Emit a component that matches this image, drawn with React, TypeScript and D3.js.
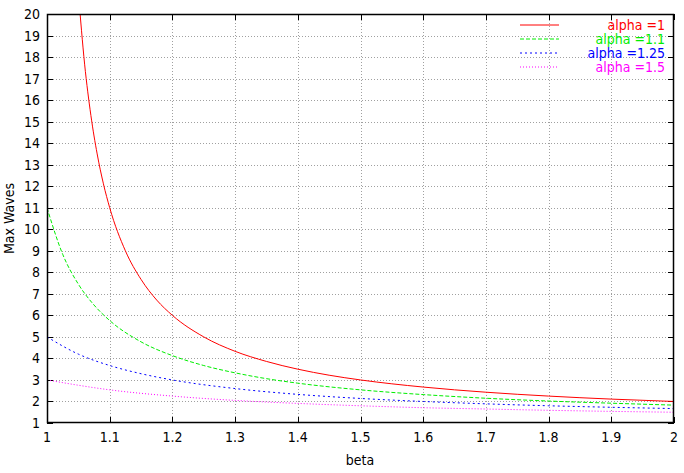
import React from "react";
import * as d3 from "d3";

const xTicks = [1, 1.1, 1.2, 1.3, 1.4, 1.5, 1.6, 1.7, 1.8, 1.9, 2];
const yTicks = [1, 2, 3, 4, 5, 6, 7, 8, 9, 10, 11, 12, 13, 14, 15, 16, 17, 18, 19, 20];

const beta1 = [1.05, 1.06, 1.07, 1.08, 1.09, 1.1, 1.125, 1.15, 1.175, 1.2, 1.25, 1.3, 1.35, 1.4, 1.45, 1.5, 1.6, 1.7, 1.8, 1.9, 2.0];
const waves1 = [21.0, 17.67, 15.29, 13.5, 12.11, 11.0, 9.0, 7.67, 6.71, 6.0, 5.0, 4.33, 3.86, 3.5, 3.22, 3.0, 2.67, 2.43, 2.25, 2.11, 2.0];

const beta11 = [1, 1.025, 1.05, 1.075, 1.1, 1.15, 1.2, 1.25, 1.3, 1.35, 1.4, 1.5, 1.6, 1.7, 1.8, 1.9, 2.0];
const waves11 = [11.0, 8.84, 7.45, 6.48, 5.76, 4.77, 4.13, 3.67, 3.33, 3.06, 2.85, 2.54, 2.32, 2.15, 2.02, 1.92, 1.83];

const beta125 = [1, 1.05, 1.1, 1.15, 1.2, 1.3, 1.4, 1.5, 1.6, 1.7, 1.8, 1.9, 2.0];
const waves125 = [5.0, 4.2, 3.67, 3.29, 3.0, 2.6, 2.33, 2.14, 2.0, 1.89, 1.8, 1.73, 1.67];

const beta15 = [1, 1.1, 1.2, 1.3, 1.4, 1.5, 1.6, 1.7, 1.8, 1.9, 2.0];
const waves15 = [3.0, 2.54, 2.25, 2.05, 1.91, 1.8, 1.71, 1.65, 1.59, 1.54, 1.5];

const seriesLabels = ["alpha =1", "alpha =1.1", "alpha =1.25", "alpha =1.5"];

const series = [
  { label: seriesLabels[0], xs: beta1, ys: waves1, color: "#ff0000", dash: "none" },
  { label: seriesLabels[1], xs: beta11, ys: waves11, color: "#00ee00", dash: "4,2" },
  { label: seriesLabels[2], xs: beta125, ys: waves125, color: "#0000ff", dash: "2,3" },
  { label: seriesLabels[3], xs: beta15, ys: waves15, color: "#ff00ff", dash: "1,2" },
];

const W = 684;
const H = 473;
const left = 47;
const right = 674;
const top = 14;
const bottom = 423;

export default function App() {
  const x = d3.scaleLinear().domain([1, 2]).range([left, right]);
  const y = d3.scaleLinear().domain([1, 20]).range([bottom, top]);
  const font = "'DejaVu Sans', sans-serif";
  const fs = 14;

  const line = d3
    .line<[number, number]>()
    .x((d) => x(d[0]))
    .y((d) => y(d[1]))
    .curve(d3.curveMonotoneX);

  const legendRows = [25, 39, 53, 67];
  const textStyle = { fontStretch: "condensed" as const };

  return (
    <svg
      width={W}
      height={H}
      style={{ position: "absolute", left: 0, top: 0, background: "#fff" }}
    >
      <defs>
        <clipPath id="plotclip">
          <rect x={left} y={top} width={right - left} height={bottom - top} />
        </clipPath>
      </defs>
      {/* grid */}
      <g stroke="#a0a0a0" strokeWidth={1} strokeDasharray="1,2">
        {xTicks.slice(1, -1).map((t) => (
          <line key={"gx" + t} x1={Math.round(x(t)) + 0.5} x2={Math.round(x(t)) + 0.5} y1={top} y2={bottom} />
        ))}
        {yTicks.slice(1, -1).map((t) => (
          <line key={"gy" + t} x1={left} x2={right} y1={Math.round(y(t)) + 0.5} y2={Math.round(y(t)) + 0.5} />
        ))}
      </g>
      {/* ticks */}
      <g stroke="#000" strokeWidth={1}>
        {xTicks.map((t) => (
          <g key={"tx" + t}>
            <line x1={Math.round(x(t)) + 0.5} x2={Math.round(x(t)) + 0.5} y1={bottom} y2={bottom - 6} />
            <line x1={Math.round(x(t)) + 0.5} x2={Math.round(x(t)) + 0.5} y1={top} y2={top + 6} />
          </g>
        ))}
        {yTicks.map((t) => (
          <g key={"ty" + t}>
            <line x1={left} x2={left + 6} y1={Math.round(y(t)) + 0.5} y2={Math.round(y(t)) + 0.5} />
            <line x1={right} x2={right - 6} y1={Math.round(y(t)) + 0.5} y2={Math.round(y(t)) + 0.5} />
          </g>
        ))}
      </g>
      {/* series */}
      <g clipPath="url(#plotclip)" fill="none">
        {series.map((s) => (
          <path
            key={s.label}
            d={line(s.xs.map((v, i) => [v, s.ys[i]] as [number, number])) || ""}
            stroke={s.color}
            strokeWidth={1}
            strokeDasharray={s.dash}
          />
        ))}
      </g>
      {/* frame */}
      <rect
        x={left + 0.5}
        y={top + 0.5}
        width={right - left - 1}
        height={bottom - top - 1}
        fill="none"
        stroke="#000"
        strokeWidth={1.5}
      />
      {/* tick labels */}
      <g fontFamily={font} fontSize={fs} fill="#000" style={textStyle}>
        {xTicks.map((t) => (
          <text key={"lx" + t} x={x(t)} y={442} textAnchor="middle">
            {String(t)}
          </text>
        ))}
        {yTicks.map((t) => (
          <text key={"ly" + t} x={40} y={y(t) + 5} textAnchor="end">
            {String(t)}
          </text>
        ))}
      </g>
      {/* axis titles */}
      <text x={360} y={465} textAnchor="middle" fontFamily={font} fontSize={fs} style={textStyle}>
        beta
      </text>
      <text
        transform={`translate(14, ${(top + bottom) / 2}) rotate(-90)`}
        textAnchor="middle"
        fontFamily={font}
        fontSize={fs}
        style={textStyle}
      >
        Max Waves
      </text>
      {/* legend */}
      {series.map((s, i) => (
        <g key={"leg" + i}>
          <line
            x1={520}
            x2={559}
            y1={legendRows[i]}
            y2={legendRows[i]}
            stroke={s.color}
            strokeWidth={1}
            strokeDasharray={s.dash}
          />
          <text
            x={665}
            y={legendRows[i] + 5}
            textAnchor="end"
            fontFamily={font}
            fontSize={fs}
            fill={s.color}
            style={textStyle}
          >
            {s.label}
          </text>
        </g>
      ))}
    </svg>
  );
}
